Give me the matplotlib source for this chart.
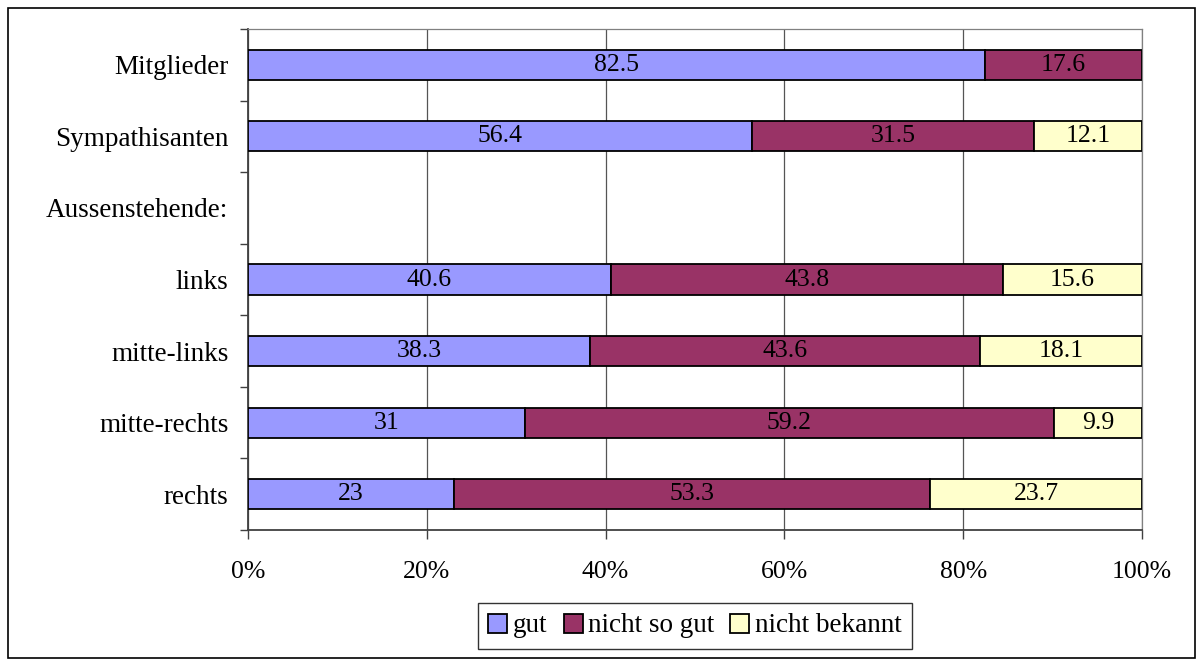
import numpy as np
from matplotlib import pyplot as plt
from matplotlib.patches import Rectangle

# daten
kategorien = ["Mitglieder", "Sympathisanten", "Aussenstehende:", "links",
              "mitte-links", "mitte-rechts", "rechts"]
gut = [82.5, 56.4, 0, 40.6, 38.3, 31, 23]
nicht_so_gut = [17.6, 31.5, 0, 43.8, 43.6, 59.2, 53.3]
nicht_bekannt = [0, 12.1, 0, 15.6, 18.1, 9.9, 23.7]
serien = ["gut", "nicht so gut", "nicht bekannt"]
farben = ["#9999FF", "#993366", "#FFFFCC"]
xticks = [0, 20, 40, 60, 80, 100]

plt.rcParams['font.family'] = ['Liberation Serif', 'DejaVu Serif']

W, H = 1203, 666
fig = plt.figure(figsize=(W/100, H/100), dpi=100)
ax = fig.add_axes([248/W, 1-530/H, (1142-248)/W, (530-29)/H])

werte = np.array([gut, nicht_so_gut, nicht_bekannt], dtype=float)
summe = werte.sum(axis=0)
summe[summe == 0] = 1
anteil = werte / summe * 100
y = np.arange(len(kategorien))

links = np.zeros(len(kategorien))
for i in range(3):
    for j in range(len(kategorien)):
        if werte[i, j] <= 0:
            continue
        ax.barh(y[j], anteil[i, j], left=links[j], height=0.42, color=farben[i],
                edgecolor='black', linewidth=1.3, zorder=3,
                label=serien[i] if j == 0 or (i == 2 and j == 1) else None)
        ax.text(links[j] + anteil[i, j]/2, y[j], f"{werte[i, j]:g}", ha='center',
                va='center', fontsize=18.5, zorder=4)
    links += anteil[i]

ax.set_xlim(0, 100)
ax.set_ylim(len(kategorien) - 0.5, -0.5)
ax.set_xticks(xticks)
ax.set_xticklabels([f"{t}%" for t in xticks])
ax.set_yticks(y)
ax.set_yticklabels(kategorien)
ax.set_yticks(np.arange(-0.5, len(kategorien)), minor=True)
ax.tick_params(axis='y', which='major', length=0, pad=14, labelsize=19.5)
ax.tick_params(axis='y', which='minor', length=6, width=1, color='#404040')
ax.tick_params(axis='x', length=6.5, width=1, color='#404040', pad=16, labelsize=18.5)
ax.xaxis.grid(True, color='#555555', linewidth=0.9, zorder=0)
ax.set_axisbelow(True)
for s in ['top', 'right']:
    ax.spines[s].set_color('#808080')
    ax.spines[s].set_linewidth(0.9)
for s in ['left', 'bottom']:
    ax.spines[s].set_color('#404040')
    ax.spines[s].set_linewidth(1.3)

handles, labels = ax.get_legend_handles_labels()
leg = fig.legend(handles, labels, loc='center', bbox_to_anchor=(695/W, 1-626/H),
                 ncol=3, fontsize=19.5, frameon=True, fancybox=False, edgecolor='black',
                 handlelength=0.7, handleheight=0.7, handletextpad=0.2,
                 columnspacing=0.6, borderpad=0.4, borderaxespad=0)
leg.get_frame().set_linewidth(1)

# rahmen um die ganze grafik
fig.patches.append(Rectangle((8/W, 8/H), (1195-8)/W, (658-8)/H, transform=fig.transFigure,
                             fill=False, edgecolor='black', linewidth=1.2))

fig.savefig("out.png", dpi=100)
